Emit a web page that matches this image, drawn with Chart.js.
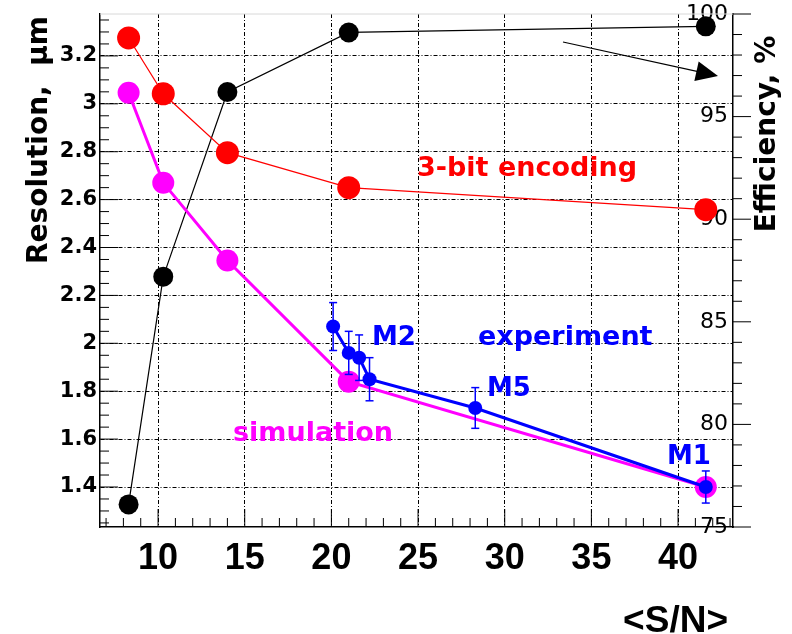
<!DOCTYPE html>
<html><head><meta charset="utf-8">
<script src="https://cdn.jsdelivr.net/npm/chart.js@4/dist/chart.umd.min.js"></script>
<style>html,body{margin:0;background:#fff}canvas{display:block}</style>
</head><body>
<canvas id="c" width="792" height="634"></canvas>
<script>
/* Resolution & efficiency vs <S/N> */
const snSim = [8.3, 10.3, 14, 21, 41.6];
const effVals = [76.1, 87.2, 96.2, 99.1, 99.4];
const encVals = [3.275, 3.042, 2.796, 2.65, 2.558];
const simVals = [3.046, 2.67, 2.346, 1.84, 1.40];
const snExp = [20.1, 21.0, 21.6, 22.2, 28.3, 41.6];
const expVals = [2.07, 1.96, 1.94, 1.85, 1.73, 1.40];
const expErr = [0.10, 0.09, 0.095, 0.09, 0.085, 0.067];
const xTicks = [10, 15, 20, 25, 30, 35, 40];
const resTicks = [1.4, 1.6, 1.8, 2, 2.2, 2.4, 2.6, 2.8, 3, 3.2];
const resLabels = ['1.4', '1.6', '1.8', '2', '2.2', '2.4', '2.6', '2.8', '3', '3.2'];
const effTicks = [75, 80, 85, 90, 95, 100];

const pts = (xs, ys) => xs.map((x, i) => ({ x, y: ys[i] }));
const BOLD = 'bold 27px "DejaVu Sans"';

function line(ctx, x1, y1, x2, y2) { ctx.beginPath(); ctx.moveTo(x1, y1); ctx.lineTo(x2, y2); ctx.stroke(); }
function label(ctx, txt, x, y, color, font, rot, align) {
    ctx.save(); ctx.translate(x, y); if (rot) ctx.rotate(rot);
    ctx.fillStyle = color; ctx.font = font; ctx.textAlign = align || 'left'; ctx.textBaseline = 'alphabetic';
    ctx.fillText(txt, 0, 0); ctx.restore();
}

const decor = {
    id: 'decor',
    beforeDatasetsDraw(chart) {
        const { ctx, chartArea: a, scales: { x, y, yR } } = chart;
        ctx.save(); ctx.strokeStyle = '#000'; ctx.lineWidth = 1;
        for (let v = 7; v <= 43; v++) { const p = x.getPixelForValue(v); line(ctx, p, a.bottom, p, a.bottom - (v % 5 ? 9 : 18)); }
        for (let k = 25; k <= 67; k++) { const p = y.getPixelForValue(k * 0.05); line(ctx, a.left, p, a.left + (k % 4 ? 9 : 18), p); }
        for (let v = 75; v <= 100; v++) { const p = yR.getPixelForValue(v); line(ctx, a.right, p, a.right + (v % 5 ? 9 : 18), p); }
        ctx.strokeStyle = '#d8d8d8'; line(ctx, a.left, a.top, a.right, a.top);
        ctx.restore();
    },
    afterDatasetsDraw(chart) {
        const { ctx, scales: { x, y } } = chart;
        ctx.save(); ctx.strokeStyle = '#0000ff'; ctx.lineWidth = 1.5;
        snExp.forEach((s, i) => {
            const px = x.getPixelForValue(s), y1 = y.getPixelForValue(expVals[i] + expErr[i]), y2 = y.getPixelForValue(expVals[i] - expErr[i]);
            line(ctx, px, y1, px, y2); line(ctx, px - 4, y1, px + 4, y1); line(ctx, px - 4, y2, px + 4, y2);
        });
        // arrow pointing to the efficiency axis
        const x1 = 563, y1 = 42, x2 = 718, y2 = 76, ang = Math.atan2(y2 - y1, x2 - x1);
        ctx.strokeStyle = '#000'; ctx.fillStyle = '#000'; ctx.lineWidth = 1.2;
        line(ctx, x1, y1, x2 - 18 * Math.cos(ang), y2 - 18 * Math.sin(ang));
        ctx.beginPath(); ctx.moveTo(x2, y2);
        ctx.lineTo(x2 - 22 * Math.cos(ang) + 10 * Math.sin(ang), y2 - 22 * Math.sin(ang) - 10 * Math.cos(ang));
        ctx.lineTo(x2 - 22 * Math.cos(ang) - 10 * Math.sin(ang), y2 - 22 * Math.sin(ang) + 10 * Math.cos(ang));
        ctx.closePath(); ctx.fill();
        ctx.restore();
        label(ctx, '3-bit encoding', 417, 176, '#ff0000', BOLD);
        label(ctx, 'experiment', 478, 345, '#0000ff', BOLD);
        label(ctx, 'simulation', 233, 441, '#ff00ff', BOLD);
        label(ctx, 'M2', 372, 345, '#0000ff', 'bold 26px "DejaVu Sans"');
        label(ctx, 'M5', 487, 396, '#0000ff', 'bold 26px "DejaVu Sans"');
        label(ctx, 'M1', 667, 464, '#0000ff', 'bold 26px "DejaVu Sans"');
        label(ctx, 'Resolution,  \u00b5m', 47, 140, '#000', 'bold 28px "DejaVu Sans"', -Math.PI / 2, 'center');
        label(ctx, 'Efficiency, %', 775, 134, '#000', 'bold 28px "DejaVu Sans"', -Math.PI / 2, 'center');
        label(ctx, '<S/N>', 728, 632, '#000', 'bold 37px "Liberation Sans"', 0, 'right');
    }
};

function fixed(size, key) {
    return s => { s[key] = size; s.paddingTop = 0; s.paddingBottom = 0; s.paddingLeft = 0; s.paddingRight = 0; };
}

new Chart(document.getElementById('c'), {
    type: 'scatter',
    data: { datasets: [
        { data: pts(snExp, expVals), showLine: true, borderColor: '#0000ff', backgroundColor: '#0000ff', borderWidth: 3, pointRadius: 7, pointBorderWidth: 0, yAxisID: 'y' },
        { data: pts(snSim, simVals), showLine: true, borderColor: '#ff00ff', backgroundColor: '#ff00ff', borderWidth: 3, pointRadius: 11, pointBorderWidth: 0, yAxisID: 'y' },
        { data: pts(snSim, encVals), showLine: true, borderColor: '#ff0000', backgroundColor: '#ff0000', borderWidth: 1.2, pointRadius: 11.5, pointBorderWidth: 0, yAxisID: 'y' },
        { data: pts(snSim, effVals), showLine: true, borderColor: '#000', backgroundColor: '#000', borderWidth: 1.2, pointRadius: 10, pointBorderWidth: 0, yAxisID: 'yR' }
    ] },
    options: {
        responsive: false, animation: false, clip: false,
        layout: { padding: { top: 14, left: 0, right: 0, bottom: 0 } },
        plugins: { legend: { display: false }, tooltip: { enabled: false } },
        scales: {
            x: {
                type: 'linear', position: 'bottom', min: 6.65, max: 43.17,
                afterBuildTicks: s => { s.ticks = xTicks.map(v => ({ value: v })); },
                afterFit: fixed(107, 'height'),
                ticks: { color: '#000', padding: 14, maxRotation: 0, autoSkip: false, font: { family: 'Liberation Sans', weight: 'bold', size: 36, lineHeight: 1 } },
                grid: { color: '#000', lineWidth: 1, drawTicks: false },
                border: { color: '#000', width: 1.5, dash: [4, 2, 1, 2] }
            },
            y: {
                type: 'linear', position: 'left', min: 1.233, max: 3.375,
                afterBuildTicks: s => { s.ticks = resTicks.map(v => ({ value: v })); },
                afterFit: fixed(100, 'width'),
                ticks: { color: '#000', padding: 3, callback: (v, i) => resLabels[i], font: { family: 'DejaVu Sans', weight: 'bold', size: 21, lineHeight: 1 } },
                grid: { color: '#000', lineWidth: 1, drawTicks: false },
                border: { color: '#000', width: 1.5, dash: [4, 2, 1, 2] }
            },
            yR: {
                type: 'linear', position: 'right', min: 75, max: 100,
                afterBuildTicks: s => { s.ticks = effTicks.map(v => ({ value: v })); },
                afterFit: fixed(59, 'width'),
                ticks: { color: '#000', mirror: true, padding: -5, font: { family: 'DejaVu Sans', size: 22, lineHeight: 1 } },
                grid: { drawOnChartArea: false, drawTicks: false },
                border: { color: '#000', width: 1.5 }
            }
        }
    },
    plugins: [decor]
});
</script>
</body></html>
